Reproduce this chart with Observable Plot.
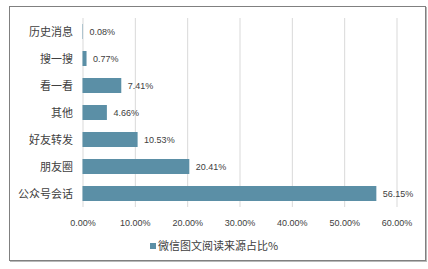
<!DOCTYPE html>
<html>
<head>
<meta charset="utf-8">
<script src="https://cdn.jsdelivr.net/npm/d3@7"></script>
<script src="https://cdn.jsdelivr.net/npm/@observablehq/plot@0.6"></script>
<style>
  html, body { margin: 0; padding: 0; background: #fff; }
  body { width: 428px; height: 269px; position: relative; overflow: hidden;
         font-family: "Liberation Sans", "Noto Sans CJK SC", sans-serif; }
  #frame { position: absolute; left: 9px; top: 6px; width: 415px; height: 253px;
           border: 1px solid #808080; box-shadow: 1px 1px 0 #b8b8b8; pointer-events: none; }
  #chart { position: absolute; left: 0; top: 0; }
  #legend { position: absolute; top: 237px; left: 0; width: 428px; text-align: center;
            font-size: 11px; color: #404040; font-family: "Noto Sans CJK SC", sans-serif; }
  #legend .sw { display: inline-block; width: 6px; height: 6px; background: #5b8fa6;
                margin-right: 2px; vertical-align: 1px; }
</style>
</head>
<body>
<div id="chart"></div>
<div id="legend"></div>
<div id="frame"></div>
<script>
// Share of WeChat article reads by traffic source (%)
const categories = ["历史消息", "搜一搜", "看一看", "其他", "好友转发", "朋友圈", "公众号会话"];
const shares = [0.08, 0.77, 7.41, 4.66, 10.53, 20.41, 56.15];
const xTicks = [0, 10, 20, 30, 40, 50, 60];
const seriesName = "微信图文阅读来源占比%";

const data = categories.map((c, i) => ({category: c, value: shares[i]}));
const barColor = "#5b8fa6";
const pct = d => d.toFixed(2) + "%";

const chart = Plot.plot({
  width: 428,
  height: 235,
  marginLeft: 82.5,
  marginRight: 31.5,
  marginTop: 18,
  marginBottom: 28,
  style: {fontFamily: '"Liberation Sans", "Noto Sans CJK SC", sans-serif', color: "#404040", background: "transparent"},
  x: {domain: [0, 60], ticks: xTicks, label: null},
  y: {domain: categories, paddingInner: 0.44, paddingOuter: 0.22, label: null},
  marks: [
    Plot.ruleX(xTicks, {stroke: "#d9d9d9", strokeWidth: 1}),
    Plot.barX(data, {x: "value", y: "category", fill: barColor}),
    Plot.text(data, {x: "value", y: "category", text: d => pct(d.value), textAnchor: "start", dx: 6, fontSize: 9, fill: "#404040"}),
    Plot.axisX(xTicks, {tickSize: 0, tickPadding: 12, tickFormat: pct, fontSize: 9, fill: "#404040"}),
    Plot.axisY({tickSize: 0, tickPadding: 10, fontSize: 11, fill: "#404040", fontFamily: '"Noto Sans CJK SC", sans-serif'})
  ]
});
document.getElementById("chart").appendChild(chart);

const legend = document.getElementById("legend");
legend.innerHTML = '<span class="sw"></span>' + seriesName;
</script>
</body>
</html>
